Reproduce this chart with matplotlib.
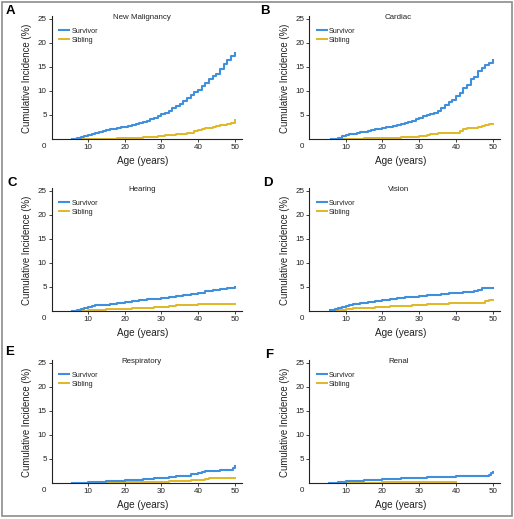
import matplotlib
matplotlib.use("Agg")
import matplotlib.pyplot as plt
from matplotlib.patches import Rectangle

# ---------------- data ----------------
titles = ["New Malignancy", "Cardiac", "Hearing", "Vision", "Respiratory", "Renal"]
letters = ["A", "B", "C", "D", "E", "F"]

a_surv_age = [5.5,7,8,9,10,11,12,13,14,15,16,17,18,19,20,21,22,23,24,25,26,27,28,29,30,31,32,33,34,35,36,37,38,39,40,41,42,43,44,45,46,47,48,49,50]
a_surv_val = [0,0.2,0.4,0.6,0.8,1.0,1.2,1.4,1.6,1.8,2.0,2.1,2.3,2.5,2.6,2.8,3.0,3.2,3.4,3.6,3.8,4.1,4.4,4.7,5.1,5.5,5.9,6.4,6.9,7.3,7.9,8.6,9.2,9.7,10.3,11.0,11.7,12.5,13.1,13.6,14.6,15.6,16.5,17.3,18.0]
a_sib_age = [7,10,15,18,20,22,25,28,29,30,31,32,33,34,35,36,37,38,39,40,41,42,43,44,45,46,47,48,49,50]
a_sib_val = [0,0.05,0.1,0.15,0.2,0.3,0.4,0.5,0.6,0.7,0.8,0.85,0.9,1.0,1.05,1.1,1.2,1.35,1.6,1.9,2.1,2.2,2.35,2.4,2.7,2.9,3.0,3.1,3.4,3.9]

b_surv_age = [6,7,8,9,10,11,12,13,14,15,16,17,18,19,20,21,22,23,24,25,26,27,28,29,30,31,32,33,34,35,36,37,38,39,40,41,42,43,44,45,46,47,48,49,50]
b_surv_val = [0,0.1,0.3,0.55,0.75,0.95,1.1,1.25,1.4,1.55,1.7,1.85,2.0,2.15,2.3,2.45,2.6,2.75,2.9,3.1,3.3,3.55,3.8,4.1,4.4,4.7,4.95,5.2,5.5,5.9,6.4,7.0,7.6,8.2,8.9,9.6,10.6,11.3,12.4,13.0,14.1,14.8,15.5,15.9,16.4]
b_sib_age = [7,10,15,20,25,30,32,33,34,35,38,40,41,42,43,45,46,47,48,49,50]
b_sib_val = [0,0.05,0.15,0.3,0.45,0.6,0.8,0.95,1.05,1.2,1.25,1.3,1.6,2.1,2.2,2.2,2.5,2.7,2.9,3.1,3.2]

c_surv_age = [5.5,7,8,9,10,11,12,14,16,18,20,22,24,26,28,30,32,34,36,38,40,42,44,46,48,50]
c_surv_val = [0,0.2,0.4,0.6,0.8,1.0,1.15,1.35,1.55,1.75,1.9,2.05,2.2,2.4,2.55,2.7,2.9,3.05,3.3,3.6,3.85,4.15,4.4,4.55,4.75,4.9]
c_sib_age = [8,10,12,15,18,20,22,25,28,30,32,34,35,38,40,45,50]
c_sib_val = [0,0.2,0.25,0.35,0.45,0.5,0.55,0.6,0.75,0.85,1.0,1.15,1.25,1.3,1.4,1.5,1.5]

d_surv_age = [5.8,7,8,9,10,11,12,14,16,18,20,22,24,26,28,30,32,34,36,38,40,42,44,45,46,47,48,50]
d_surv_val = [0.3,0.5,0.65,0.85,1.0,1.35,1.45,1.6,1.85,2.1,2.3,2.5,2.7,2.85,3.0,3.1,3.25,3.4,3.55,3.65,3.8,3.9,3.95,4.2,4.4,4.7,4.8,4.75]
d_sib_age = [7,8,10,12,15,18,20,22,25,28,30,32,35,38,40,45,47,48,49,50]
d_sib_val = [0,0.3,0.45,0.55,0.7,0.8,0.9,1.0,1.1,1.25,1.35,1.45,1.55,1.6,1.65,1.7,1.7,2.0,2.2,2.2]

e_surv_age = [5.5,8,10,12,15,18,20,22,25,28,30,32,34,36,38,40,41,42,44,45,46,48,49,49.5,50]
e_surv_val = [0,0.05,0.15,0.25,0.4,0.5,0.6,0.7,0.85,1.0,1.1,1.25,1.4,1.55,1.8,2.0,2.35,2.45,2.5,2.6,2.75,2.75,2.8,3.2,3.5]
e_sib_age = [8,12,15,20,25,30,32,35,38,40,42,43,45,50]
e_sib_val = [0,0.05,0.1,0.15,0.2,0.3,0.35,0.45,0.6,0.7,0.85,0.95,1.0,1.0]

f_surv_age = [5.5,7,8,10,12,15,18,20,22,25,28,30,32,35,38,40,42,45,48,49,49.5,50]
f_surv_val = [0,0.1,0.25,0.35,0.45,0.55,0.7,0.75,0.85,0.95,1.05,1.1,1.15,1.25,1.35,1.4,1.45,1.5,1.55,1.6,2.0,2.2]
f_sib_age = [7,10,15,20,25,30,35,38,40]
f_sib_val = [0.0,0.05,0.1,0.15,0.15,0.2,0.3,0.3,0.3]

survivor = [(a_surv_age, a_surv_val), (b_surv_age, b_surv_val), (c_surv_age, c_surv_val),
            (d_surv_age, d_surv_val), (e_surv_age, e_surv_val), (f_surv_age, f_surv_val)]
sibling = [(a_sib_age, a_sib_val), (b_sib_age, b_sib_val), (c_sib_age, c_sib_val),
           (d_sib_age, d_sib_val), (e_sib_age, e_sib_val), (f_sib_age, f_sib_val)]

x_ticks = [10, 20, 30, 40, 50]
y_ticks = [5, 10, 15, 20, 25]

# ---------------- style ----------------
BLUE = "#3f8fdc"
YELLOW = "#e0b826"
regular = ["Liberation Sans", "DejaVu Sans"]

W, H = 514, 519
fig = plt.figure(figsize=(W / 100, H / 100), dpi=100)

col_left = [51.5, 309.0]
col_width = [190.5, 191.0]
row_bottom = [139.0, 311.0, 483.0]
ax_h = 123.0

letter_pos = [(10, 11), (265, 11), (12, 183), (268, 183), (10, 352), (269, 355)]
title_x = [0.473, 0.467, 0.475, 0.47, 0.47, 0.47]

for i in range(6):
    r, c = divmod(i, 2)
    ax = fig.add_axes([col_left[c] / W, 1 - row_bottom[r] / H, col_width[c] / W, ax_h / H])
    sa, sv = survivor[i]
    ga, gv = sibling[i]
    ax.plot(sa, sv, drawstyle="steps-post", color=BLUE, lw=1.5, label="Survivor", zorder=3)
    ax.plot(ga, gv, drawstyle="steps-post", color=YELLOW, lw=1.4, label="Sibling", zorder=2)
    ax.set_xlim(0, 52)
    ax.set_ylim(0, 25.6)
    ax.set_xticks(x_ticks)
    ax.set_yticks(y_ticks)
    ax.spines["top"].set_visible(False)
    ax.spines["right"].set_visible(False)
    for s in ("left", "bottom"):
        ax.spines[s].set_linewidth(0.8)
        ax.spines[s].set_color("#222222")
    ax.tick_params(axis="both", direction="out", length=2.2, width=0.6, pad=1.2,
                   labelsize=5.8, colors="#222222")
    for lab in ax.get_xticklabels() + ax.get_yticklabels():
        lab.set_family(regular)
    ax.annotate("0", xy=(0, 0), xycoords="data", xytext=(-5.3, -5.3), textcoords="offset points",
                ha="center", va="center", fontsize=5.8, family=regular, color="#222222",
                annotation_clip=False)
    ax.set_ylabel("Cumulative Incidence (%)", fontsize=6.9, family=regular, color="#222222")
    ax.yaxis.set_label_coords(-0.1, 0.49)
    ax.set_xlabel("Age (years)", fontsize=7.2, family=regular, color="#222222")
    ax.xaxis.set_label_coords(0.48, -0.135)
    ax.text(title_x[i], 0.985, titles[i], transform=ax.transAxes, ha="center", va="center",
            fontsize=5.7, family=regular, color="#222222")
    leg = ax.legend(loc="upper left", bbox_to_anchor=(0.04, 0.905), frameon=False,
                    prop={"family": regular, "size": 5.2}, handlelength=1.4,
                    handletextpad=0.3, labelspacing=0.3, borderaxespad=0, borderpad=0)
    for t in leg.get_texts():
        t.set_color("#222222")
    lx, ly = letter_pos[i]
    fig.text(lx / W, 1 - ly / H, letters[i], ha="center", va="center", fontsize=9.5,
             fontweight="bold", family=regular, color="black")

fig.patches.append(Rectangle((1.5 / W, 3 / H), 510.5 / W, 514.5 / H, transform=fig.transFigure,
                             fill=False, edgecolor="#8c8c8c", lw=1.2))

fig.savefig("out.png", dpi=100)
